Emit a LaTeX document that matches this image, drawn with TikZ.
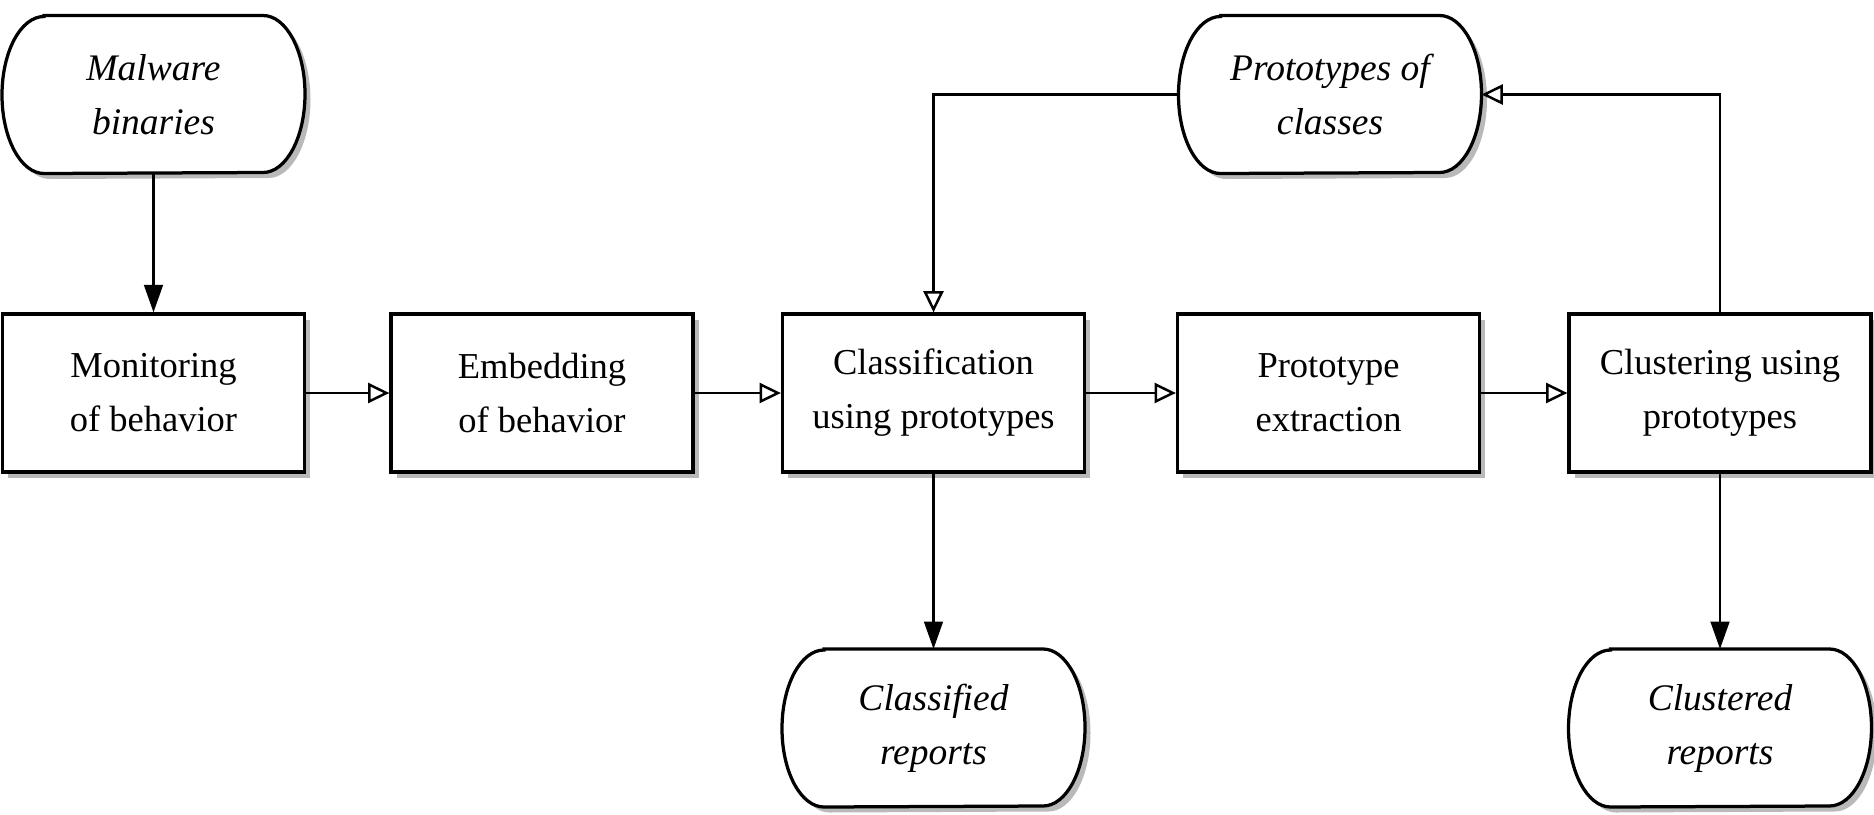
\documentclass[tikz,border=0pt]{standalone}
\usepackage{fontspec}
\setmainfont{Liberation Serif}
\usetikzlibrary{arrows.meta,shadows,calc,backgrounds}
\newcommand\termshape[1]{%
  \draw[termline] ($(#1.north west)+(16.8pt,0)$) -- ($(#1.north east)+(-16.8pt,0)$)
    arc[start angle=90,end angle=-90,x radius=16.8pt,y radius=31.4pt]
    -- ($(#1.south west)+(16.8pt,0)$)
    arc[start angle=270,end angle=90,x radius=16.8pt,y radius=31.4pt] -- cycle;}
\begin{document}
\begin{tikzpicture}[x=0.4pt,y=-0.4pt,
  box/.style={draw, line width=1.3pt, fill=white, minimum width=120.8pt, minimum height=63.2pt,
    inner sep=0pt, align=center, font=\fontsize{14.6}{21.6}\selectfont,
    drop shadow={shadow xshift=2.2pt, shadow yshift=-2.2pt, fill=black!55}},
  term/.style={minimum width=120.8pt, minimum height=62.8pt, inner sep=0pt, align=center,
    font=\fontsize{15}{21.6}\selectfont\itshape},
  termline/.style={line width=1.3pt, draw, fill=white,
    drop shadow={shadow xshift=2.2pt, shadow yshift=-2.2pt, fill=black!55}},
  flow/.style={line width=1pt, -{Triangle[open, length=8.5pt, width=8pt]}},
  down/.style={line width=1pt, -{Triangle[length=11pt, width=7.5pt]}}
]
\useasboundingbox (0,0) rectangle (1874,814);

\node[term] (mal) at (153.5,94.5) {Malware\\binaries};
\node[term] (proto) at (1330,94.5) {Prototypes of\\classes};
\node[term] (clsr) at (933.5,728) {Classified\\reports};
\node[term] (clur) at (1720,728) {Clustered\\reports};

\begin{pgfonlayer}{background}
\termshape{mal}
\termshape{proto}
\termshape{clsr}
\termshape{clur}
\end{pgfonlayer}

\node[box] (mon) at (153.5,393) {Monitoring\\of behavior};
\node[box] (emb) at (542,393) {Embedding\\of behavior};
\node[box] (cls) at (933.5,393) {Classification\\using prototypes};
\node[box] (ext) at (1328.5,393) {Prototype\\extraction};
\node[box] (clu) at (1720,393) {Clustering using\\prototypes};

\draw[down] (mal) -- (mon);
\draw[flow] (mon) -- (emb);
\draw[flow] (emb) -- (cls);
\draw[flow] (cls) -- (ext);
\draw[flow] (ext) -- (clu);
\draw[down] (cls) -- (clsr);
\draw[down] (clu) -- (clur);
\draw[flow] (clu.north) |- (proto.east);
\draw[flow] (proto.west) -| (cls.north);
\end{tikzpicture}
\end{document}
